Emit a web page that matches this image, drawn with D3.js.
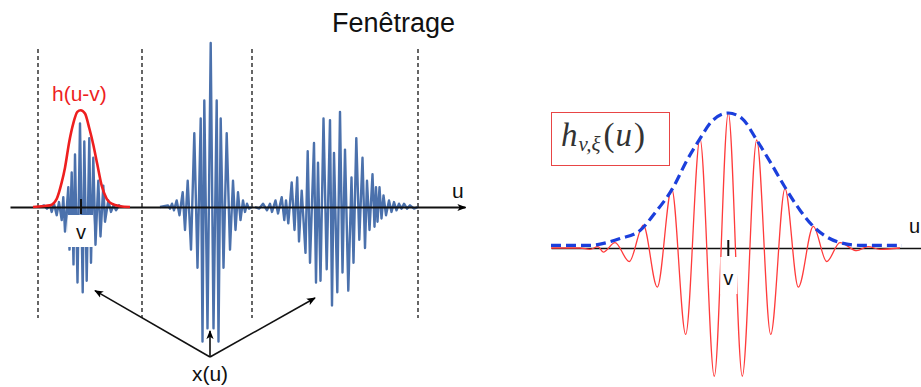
<!DOCTYPE html>
<html>
<head>
<meta charset="utf-8">
<script src="https://cdn.jsdelivr.net/npm/d3@7"></script>
<style>
  body { margin: 0; background: #fff; }
  svg { display: block; }
</style>
</head>
<body>
<script>
// ---- Left panel: signal x(u) as successive extrema [u, amplitude] ----
const burstA = [[6.0,0],[6.8,0.01],[7.4,-0.01],[8.0,0.01],
  [8.34,-0.03],[8.8,0.02],[9.34,-0.05],[9.8,0.03],[10.34,-0.08],[10.66,0.06],[11.0,-0.15],[11.66,0.12],
  [11.9,-0.26],[12.34,0.21],[12.7,-0.35],[13.0,0.32],[13.5,-0.46],[14.0,0.51],[14.54,-0.52],[14.86,0.40],
  [15.34,-0.45],[15.86,0.42],[16.2,-0.34],[16.66,0.30],[17.1,-0.23],[17.66,0.16],[18.1,-0.18],[18.66,0.13],
  [19.0,-0.09],[19.66,0.04],[20.2,-0.03],[20.7,0.01],[21.2,-0.02],[21.8,0.01],[22.4,0]];
const burstB = [[30.0,0],[31.6,0.01],[32.0,-0.01],[32.4,0.02],[32.8,-0.02],[33.34,0.04],[33.9,-0.05],[34.54,0.09],
  [35.0,-0.14],[35.54,0.16],[36.2,-0.26],[36.86,0.45],[37.5,-0.37],[38.14,0.54],[38.5,-0.82],[38.86,0.65],
  [39.5,-0.74],[40.14,1.0],[40.7,-0.74],[41.34,0.65],[41.7,-0.82],[42.14,0.54],[42.7,-0.37],[43.34,0.45],
  [44.0,-0.26],[44.6,0.16],[45.1,-0.14],[45.6,0.09],[46.1,-0.08],[46.6,0.04],[47.0,-0.03],[47.4,0.02],
  [47.8,-0.01],[48.4,0]];
const burstC = [[49.0,0],[49.8,-0.01],[50.6,0.02],[51.4,-0.02],[52.0,0.02],[52.4,-0.03],
  [53.1,0.04],[53.6,-0.04],[54.34,0.06],[54.86,-0.08],[55.2,0.04],[55.66,-0.10],[56.34,0.15],[56.9,-0.14],
  [57.44,0.18],[57.8,-0.21],[58.34,0.10],[59.1,-0.28],[59.54,0.34],[60.0,-0.34],[60.8,0.39],[61.2,-0.46],
  [61.6,0.27],[62.1,-0.45],[62.7,0.54],[63.34,-0.38],[64.0,0.53],[64.4,-0.60],[64.8,0.33],[65.46,-0.52],
  [66.0,0.58],[66.5,-0.40],[67.0,0.35],[67.66,-0.51],[68.3,0.18],[68.7,-0.34],[69.26,0.42],[69.86,-0.20],
  [70.5,0.30],[71.0,-0.25],[71.4,0.16],[71.9,-0.14],[72.5,0.20],[72.9,-0.12],[73.2,0.12],[73.5,-0.09],
  [73.9,0.12],[74.3,-0.07],[74.7,0.07],[75.2,-0.05],[75.8,0.04],[76.3,-0.03],[76.8,0.03],[77.3,-0.02],
  [77.8,0.02],[78.3,-0.01],[78.8,0.02],[79.4,-0.01],[80.0,0.01],[80.8,-0.01],[81.6,0]];

// window h(u - v)
const windowH = [[4.6,0],[6.4,0.005],[8.0,0.01],[9.34,0.05],[10.34,0.15],[11.0,0.24],[11.86,0.40],
  [12.66,0.51],[13.46,0.58],[14.14,0.59],[15.0,0.57],[15.86,0.48],[16.66,0.38],[17.46,0.26],[18.34,0.13],
  [19.34,0.05],[20.34,0.02],[22.0,0.005],[24.0,0]];

// segment boundaries (dashed) and window centre
const windowEdges = [5.6, 26.4, 48.4, 81.6];
const vLeft = 14.2;
// arrow targets pointing at the three bursts, from the x(u) label
const arrowFrom = [40, -0.915];
const arrowTargets = [[17.0, -0.51], [40.0, -0.756], [61.0, -0.555]];

// ---- Right panel: Gabor atom h_{v,xi}(u) extrema and its Gaussian envelope ----
const atomWave = [[0,0],[5.8,0],[7.8,-0.01],[9.4,0.01],[10.46,-0.03],[12.8,0.04],[15.66,-0.10],[18.46,0.17],
  [21.26,-0.29],[24.14,0.44],[26.94,-0.64],[29.8,0.81],[32.66,-0.95],[35.46,1.0],[38.26,-0.95],[41.14,0.80],
  [43.94,-0.64],[46.8,0.44],[49.46,-0.29],[52.46,0.16],[55.14,-0.10],[57.8,0.04],[61.14,-0.02],[63.4,0.01],
  [65.8,-0.01],[69.8,0]];
const atomEnvelope = [[0,0.02],[7.8,0.02],[11.14,0.04],[13.8,0.07],[17.8,0.13],[20.8,0.26],[24.46,0.45],
  [27.2,0.65],[29.8,0.81],[32.2,0.94],[35.46,1.0],[38.2,0.96],[41.14,0.80],[43.8,0.64],[46.8,0.45],
  [49.8,0.28],[52.46,0.16],[54.8,0.09],[57.8,0.04],[61.8,0.02],[70.2,0.02]];
const vRight = 35.46;

const W = 921, H = 387;
const svg = d3.select("body").append("svg").attr("width", W).attr("height", H);
const sans = "'Liberation Sans', Arial, sans-serif";

const defs = svg.append("defs");
defs.append("marker").attr("id", "head").attr("viewBox", "0 0 10 10")
  .attr("refX", 9).attr("refY", 5).attr("markerWidth", 9).attr("markerHeight", 9)
  .attr("markerUnits", "userSpaceOnUse").attr("orient", "auto")
  .append("path").attr("d", "M0,1 L10,5 L0,9 L2.5,5 Z").attr("fill", "#000");

// ---------------- left panel ----------------
const xL = d3.scaleLinear().domain([0, 91]).range([10, 465]);
const yL = d3.scaleLinear().domain([-1, 1]).range([371, 43]);

svg.append("text").attr("x", 332).attr("y", 32)
  .attr("font-family", sans).attr("font-size", 27).attr("fill", "#111").text("Fenêtrage");

svg.append("g").selectAll("line").data(windowEdges).join("line")
  .attr("x1", d => xL(d)).attr("x2", d => xL(d))
  .attr("y1", yL(0.963)).attr("y2", yL(-0.677))
  .attr("stroke", "#000").attr("stroke-width", 1.2).attr("stroke-dasharray", "4,3");

const lineL = d3.line().x(d => xL(d[0])).y(d => yL(d[1]));
svg.append("g").selectAll("path").data([burstA, burstB, burstC]).join("path")
  .attr("d", lineL).attr("fill", "none")
  .attr("stroke", "#4b71ac").attr("stroke-width", 2.4).attr("stroke-linejoin", "round");

const axisL = svg.append("g").attr("transform", `translate(0,${yL(0)})`)
  .call(d3.axisBottom(xL).tickValues([]).tickSizeOuter(0));
axisL.select(".domain").attr("stroke", "#111").attr("stroke-width", 2)
  .attr("marker-end", "url(#head)");

svg.append("path").datum(windowH)
  .attr("d", lineL.curve(d3.curveMonotoneX)).attr("fill", "none")
  .attr("stroke", "#ee1f1f").attr("stroke-width", 2.6);

svg.append("text").attr("x", 52).attr("y", 101)
  .attr("font-family", sans).attr("font-size", 21).attr("fill", "#ee1f1f").text("h(u-v)");

svg.append("line").attr("x1", xL(vLeft)).attr("x2", xL(vLeft))
  .attr("y1", yL(0) - 8).attr("y2", yL(0) + 7).attr("stroke", "#111").attr("stroke-width", 2);
svg.append("rect").attr("x", xL(vLeft) - 13).attr("y", yL(0) + 8).attr("width", 25).attr("height", 32)
  .attr("fill", "#fff");
svg.append("text").attr("x", xL(vLeft)).attr("y", yL(0) + 32).attr("text-anchor", "middle")
  .attr("font-family", sans).attr("font-size", 20).attr("fill", "#111").text("v");

svg.append("text").attr("x", 452).attr("y", 198)
  .attr("font-family", sans).attr("font-size", 21).attr("fill", "#111").text("u");

svg.append("g").selectAll("line").data(arrowTargets).join("line")
  .attr("x1", xL(arrowFrom[0])).attr("y1", yL(arrowFrom[1]))
  .attr("x2", d => xL(d[0])).attr("y2", d => yL(d[1]))
  .attr("stroke", "#111").attr("stroke-width", 1.6).attr("marker-end", "url(#head)");

svg.append("text").attr("x", xL(arrowFrom[0])).attr("y", 381).attr("text-anchor", "middle")
  .attr("font-family", sans).attr("font-size", 21).attr("fill", "#111").text("x(u)");

// ---------------- right panel ----------------
const xR = d3.scaleLinear().domain([0, 74]).range([551, 921]);
const yR = d3.scaleLinear().domain([-1, 1]).range([383, 113]);
const lineR = d3.line().x(d => xR(d[0])).y(d => yR(d[1])).curve(d3.curveMonotoneX);

const axisR = svg.append("g").attr("transform", `translate(0,${yR(0)})`)
  .call(d3.axisBottom(xR).tickValues([]).tickSizeOuter(0));
axisR.select(".domain").attr("stroke", "#111").attr("stroke-width", 1.6);

svg.append("path").datum(atomWave).attr("d", lineR).attr("fill", "none")
  .attr("stroke", "#ff3b3b").attr("stroke-width", 1.3);

// white label box around v
svg.append("rect").attr("x", xR(vRight) - 8).attr("y", yR(0) + 9).attr("width", 17).attr("height", 37)
  .attr("fill", "#fff");
svg.append("line").attr("x1", xR(vRight)).attr("x2", xR(vRight))
  .attr("y1", yR(0) - 8).attr("y2", yR(0) + 8).attr("stroke", "#111").attr("stroke-width", 2);
svg.append("text").attr("x", xR(vRight)).attr("y", yR(0) + 37).attr("text-anchor", "middle")
  .attr("font-family", sans).attr("font-size", 20).attr("fill", "#111").text("v");

svg.append("path").datum(atomEnvelope).attr("d", lineR).attr("fill", "none")
  .attr("stroke", "#1b3fdc").attr("stroke-width", 3.2).attr("stroke-dasharray", "10,5");

svg.append("text").attr("x", 909).attr("y", 233)
  .attr("font-family", sans).attr("font-size", 20).attr("fill", "#111").text("u");

svg.append("rect").attr("x", 551.5).attr("y", 112.5).attr("width", 118).attr("height", 53)
  .attr("fill", "#fff").attr("stroke", "#e84545").attr("stroke-width", 1);
const serif = "'Liberation Serif', 'DejaVu Serif', serif";
const mt = svg.append("text").attr("x", 561).attr("y", 146)
  .attr("font-family", serif).attr("font-size", 33).attr("fill", "#333");
mt.append("tspan").attr("font-style", "italic").text("h");
mt.append("tspan").attr("font-style", "italic").attr("font-size", 21).attr("dy", 5).attr("dx", 1).text("v,ξ");
mt.append("tspan").attr("dy", -5).attr("dx", 3).text("(");
mt.append("tspan").attr("font-style", "italic").attr("dx", 1).text("u");
mt.append("tspan").attr("dx", 2).text(")");
</script>
</body>
</html>
